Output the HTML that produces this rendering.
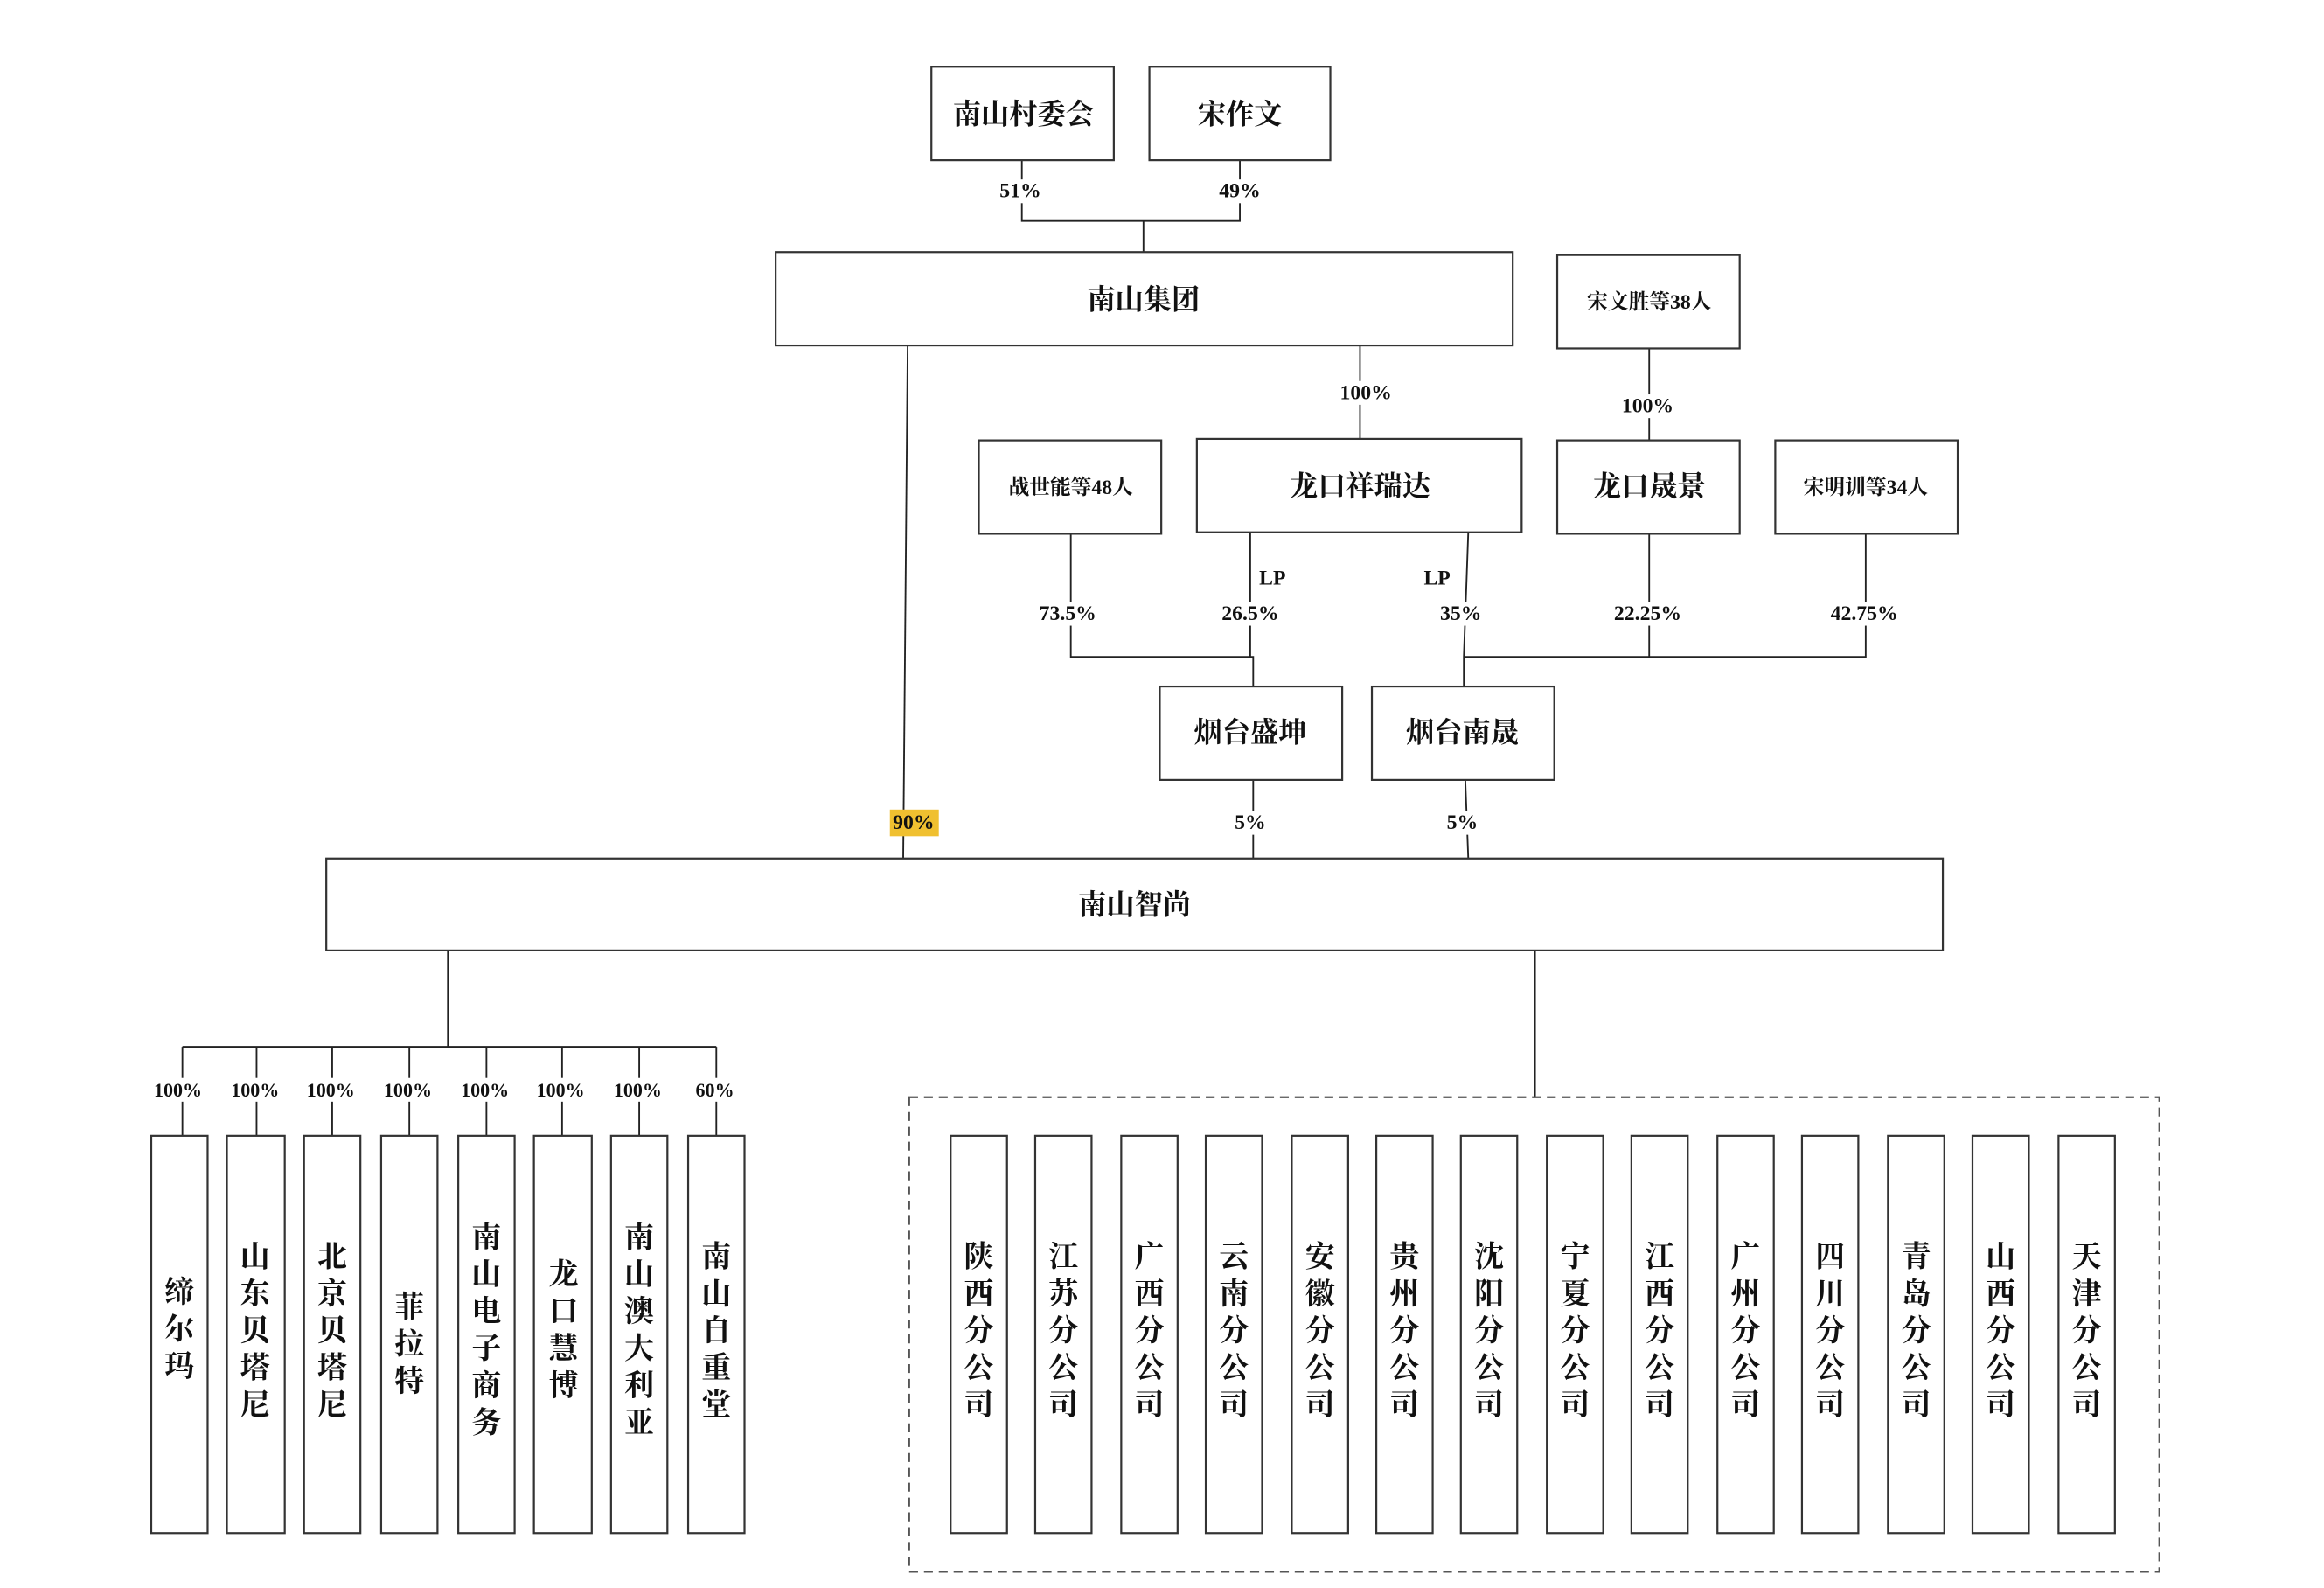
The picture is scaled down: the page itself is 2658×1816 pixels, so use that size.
<!DOCTYPE html>
<html><head><meta charset="utf-8"><style>
html,body{margin:0;padding:0;background:#fff;}
svg{display:block;}
.b{fill:#fff;stroke:#333;stroke-width:1.3;}
.l{stroke:#222;stroke-width:1.1;fill:none;}
.t{font-family:"Liberation Serif","Noto Serif CJK SC","Noto Sans CJK SC",serif;font-weight:bold;fill:#111;text-anchor:middle;dominant-baseline:central;}
.p{font-family:"Liberation Serif",serif;font-weight:bold;font-size:14px;fill:#111;text-anchor:middle;dominant-baseline:central;}
</style></head><body>
<svg width="2658" height="1816" viewBox="0 0 1567 1071" preserveAspectRatio="none" xmlns="http://www.w3.org/2000/svg">
<rect width="1567" height="1071" fill="#fff"/>
<g class="l">
<path d="M689 108V149H836V108M771 149V171"/>
<path d="M917 233V297"/>
<path d="M1112 235V297"/>
<path d="M612 233L609 579"/>
<path d="M722 360V443H845V463M843 359V443"/>
<path d="M990 359L987 443V463M987 443H1258V360M1112 360V443"/>
<path d="M845 526V579M988 526L990 579"/>
<path d="M302 641V706M123 706H483"/>
<path d="M123 706V766M173 706V766M224 706V766M276 706V766M328 706V766M379 706V766M431 706V766M483 706V766"/>
<path d="M1035 641V740"/>
</g>
<rect x="613" y="740" width="843" height="320" fill="none" stroke="#555" stroke-width="1.3" stroke-dasharray="6,4"/>
<g class="b">
<rect x="628" y="45" width="123" height="63"/><rect x="775" y="45" width="122" height="63"/>
<rect x="523" y="170" width="497" height="63"/><rect x="1050" y="172" width="123" height="63"/>
<rect x="660" y="297" width="123" height="63"/><rect x="807" y="296" width="219" height="63"/>
<rect x="1050" y="297" width="123" height="63"/><rect x="1197" y="297" width="123" height="63"/>
<rect x="782" y="463" width="123" height="63"/><rect x="925" y="463" width="123" height="63"/>
<rect x="220" y="579" width="1090" height="62"/>
</g>
<g class="t" font-size="19">
<text x="690" y="77">南山村委会</text><text x="836" y="77">宋作文</text>
<text x="771" y="202">南山集团</text>
<text x="917" y="328">龙口祥瑞达</text><text x="1112" y="328">龙口晟景</text>
<text x="843" y="494">烟台盛坤</text><text x="986" y="494">烟台南晟</text>
<text x="765" y="610">南山智尚</text>
</g>
<g class="t" font-size="14">
<text x="1112" y="204">宋文胜等38人</text>
<text x="722" y="329">战世能等48人</text>
<text x="1258" y="329">宋明训等34人</text>
</g>
<rect x="600" y="546" width="33" height="18" fill="#f0c030"/>
<g class="p">
<rect x="672" y="121" width="34" height="16" fill="#fff"/><text x="688" y="129">51%</text>
<rect x="820" y="121" width="34" height="16" fill="#fff"/><text x="836" y="129">49%</text>
<rect x="898" y="257" width="44" height="16" fill="#fff"/><text x="921" y="265">100%</text>
<rect x="1090" y="266" width="44" height="16" fill="#fff"/><text x="1111" y="274">100%</text>
<text x="858" y="390">LP</text><text x="969" y="390">LP</text>
<rect x="696" y="406" width="48" height="16" fill="#fff"/><text x="720" y="414">73.5%</text>
<rect x="819" y="406" width="48" height="16" fill="#fff"/><text x="843" y="414">26.5%</text>
<rect x="968" y="406" width="34" height="16" fill="#fff"/><text x="985" y="414">35%</text>
<rect x="1084" y="406" width="54" height="16" fill="#fff"/><text x="1111" y="414">22.25%</text>
<rect x="1230" y="406" width="54" height="16" fill="#fff"/><text x="1257" y="414">42.75%</text>
<text x="616" y="555">90%</text>
<rect x="830" y="547" width="26" height="16" fill="#fff"/><text x="843" y="555">5%</text>
<rect x="973" y="547" width="26" height="16" fill="#fff"/><text x="986" y="555">5%</text>
<g font-size="13">
<rect x="100" y="727" width="406" height="16" fill="#fff"/>
<text x="120" y="735">100%</text><text x="172" y="735">100%</text><text x="223" y="735">100%</text><text x="275" y="735">100%</text><text x="327" y="735">100%</text><text x="378" y="735">100%</text><text x="430" y="735">100%</text><text x="482" y="735">60%</text>
</g>
</g>
<g class="b">
<rect x="102" y="766" width="38" height="268"/><rect x="153" y="766" width="39" height="268"/><rect x="205" y="766" width="38" height="268"/><rect x="257" y="766" width="38" height="268"/><rect x="309" y="766" width="38" height="268"/><rect x="360" y="766" width="39" height="268"/><rect x="412" y="766" width="38" height="268"/><rect x="464" y="766" width="38" height="268"/>
<rect x="641" y="766" width="38" height="268"/><rect x="698" y="766" width="38" height="268"/><rect x="756" y="766" width="38" height="268"/><rect x="813" y="766" width="38" height="268"/><rect x="871" y="766" width="38" height="268"/><rect x="928" y="766" width="38" height="268"/><rect x="985" y="766" width="38" height="268"/><rect x="1043" y="766" width="38" height="268"/><rect x="1100" y="766" width="38" height="268"/><rect x="1158" y="766" width="38" height="268"/><rect x="1215" y="766" width="38" height="268"/><rect x="1273" y="766" width="38" height="268"/><rect x="1330" y="766" width="38" height="268"/><rect x="1388" y="766" width="38" height="268"/>
</g>
<g class="t" font-size="20">
<text x="121" y="872">缔</text><text x="121" y="897">尔</text><text x="121" y="922">玛</text>
<text x="172" y="848">山</text><text x="172" y="873">东</text><text x="172" y="898">贝</text><text x="172" y="923">塔</text><text x="172" y="948">尼</text>
<text x="224" y="848">北</text><text x="224" y="873">京</text><text x="224" y="898">贝</text><text x="224" y="923">塔</text><text x="224" y="948">尼</text>
<text x="276" y="882">菲</text><text x="276" y="907">拉</text><text x="276" y="932">特</text>
<text x="328" y="835">南</text><text x="328" y="860">山</text><text x="328" y="885">电</text><text x="328" y="910">子</text><text x="328" y="935">商</text><text x="328" y="960">务</text>
<text x="380" y="860">龙</text><text x="380" y="885">口</text><text x="380" y="910">慧</text><text x="380" y="935">博</text>
<text x="431" y="835">南</text><text x="431" y="860">山</text><text x="431" y="885">澳</text><text x="431" y="910">大</text><text x="431" y="935">利</text><text x="431" y="960">亚</text>
<text x="483" y="848">南</text><text x="483" y="873">山</text><text x="483" y="898">自</text><text x="483" y="923">重</text><text x="483" y="948">堂</text>
</g>
<g class="t" font-size="20">
<g transform="translate(660,0)"><text y="848">陕</text><text y="873">西</text><text y="898">分</text><text y="923">公</text><text y="948">司</text></g>
<g transform="translate(717,0)"><text y="848">江</text><text y="873">苏</text><text y="898">分</text><text y="923">公</text><text y="948">司</text></g>
<g transform="translate(775,0)"><text y="848">广</text><text y="873">西</text><text y="898">分</text><text y="923">公</text><text y="948">司</text></g>
<g transform="translate(832,0)"><text y="848">云</text><text y="873">南</text><text y="898">分</text><text y="923">公</text><text y="948">司</text></g>
<g transform="translate(890,0)"><text y="848">安</text><text y="873">徽</text><text y="898">分</text><text y="923">公</text><text y="948">司</text></g>
<g transform="translate(947,0)"><text y="848">贵</text><text y="873">州</text><text y="898">分</text><text y="923">公</text><text y="948">司</text></g>
<g transform="translate(1004,0)"><text y="848">沈</text><text y="873">阳</text><text y="898">分</text><text y="923">公</text><text y="948">司</text></g>
<g transform="translate(1062,0)"><text y="848">宁</text><text y="873">夏</text><text y="898">分</text><text y="923">公</text><text y="948">司</text></g>
<g transform="translate(1119,0)"><text y="848">江</text><text y="873">西</text><text y="898">分</text><text y="923">公</text><text y="948">司</text></g>
<g transform="translate(1177,0)"><text y="848">广</text><text y="873">州</text><text y="898">分</text><text y="923">公</text><text y="948">司</text></g>
<g transform="translate(1234,0)"><text y="848">四</text><text y="873">川</text><text y="898">分</text><text y="923">公</text><text y="948">司</text></g>
<g transform="translate(1292,0)"><text y="848">青</text><text y="873">岛</text><text y="898">分</text><text y="923">公</text><text y="948">司</text></g>
<g transform="translate(1349,0)"><text y="848">山</text><text y="873">西</text><text y="898">分</text><text y="923">公</text><text y="948">司</text></g>
<g transform="translate(1407,0)"><text y="848">天</text><text y="873">津</text><text y="898">分</text><text y="923">公</text><text y="948">司</text></g>
</g>
</svg>
</body></html>
